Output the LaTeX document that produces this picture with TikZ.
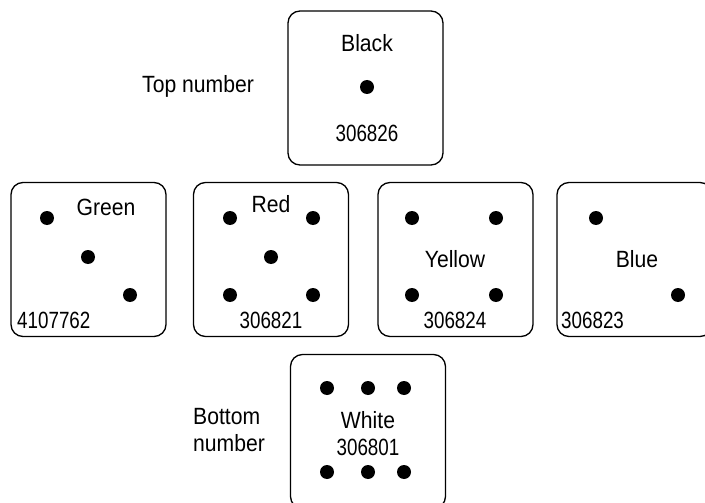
\documentclass[tikz,border=0pt]{standalone}
\usepackage{fontspec}
\setmainfont[FakeStretch=0.9]{Liberation Sans}
\newfontfamily\digitfont[FakeStretch=0.8]{Liberation Sans}
\usetikzlibrary{positioning}

\begin{document}
\begin{tikzpicture}[
  x=1pt, y=-1pt,
  font=\fontsize{23.5}{27}\selectfont,
  face/.style={rectangle, draw, line width=1.3pt, rounded corners=12pt, minimum width=155pt, minimum height=154pt, inner sep=0pt},
  pip/.style={circle, fill, minimum size=14pt, inner sep=0pt},
  lbl/.style={inner sep=0pt, align=left},
  num/.style={font=\fontsize{23.5}{27}\digitfont}
]
\clip (0,0) rectangle (705,503);
% faces
\node[face] (black)  at (365.5,88)   {};
\node[face] (green)  at (88.5,259.5) {};
\node[face] (red)    at (271,259.5)  {};
\node[face] (yellow) at (455.5,259.5){};
\node[face] (blue)   at (634.5,259.5){};
\node[face] (white)  at (368,431.5)  {};
% black
\node at (367,43)  (blackname) {Black};
\node[pip] (b1) at (367,87) {};
\node[num] at (367,133) (blacknum) {306826};
% green
\node at (106,207) (greenname) {Green};
\node[pip] (g1) at (47,218) {};
\node[pip] (g2) at (88,257) {};
\node[pip] (g3) at (130,295) {};
\node[num, lbl, anchor=west] at (17,320) (greennum) {4107762};
% red
\node at (271,204) (redname) {Red};
\node[pip] (r1) at (230,218) {};
\node[pip] (r2) at (313,218) {};
\node[pip] (r3) at (271,257) {};
\node[pip] (r4) at (230,295) {};
\node[pip] (r5) at (313,295) {};
\node[num] at (271,320) (rednum) {306821};
% yellow
\node[pip] (y1) at (412,218) {};
\node[pip] (y2) at (496,218) {};
\node at (455,259) (yellowname) {Yellow};
\node[pip] (y3) at (412,295) {};
\node[pip] (y4) at (496,295) {};
\node[num] at (455,320) (yellownum) {306824};
% blue
\node[pip] (u1) at (596,218) {};
\node at (637,259) (bluename) {Blue};
\node[pip] (u2) at (678,295) {};
\node[num, lbl, anchor=west] at (561,320) (bluenum) {306823};
% white
\foreach \i/\x in {1/327,2/368,3/404} {
  \node[pip] (wt\i) at (\x,388) {};
  \node[pip] (wb\i) at (\x,472) {};
}
\node at (368,420) (whitename) {White};
\node[num] at (368,447) (whitenum) {306801};
% side labels
\node at (198,86) (toplbl) {Top number};
\node[lbl, anchor=west] at (193,430) (botlbl) {Bottom\\number};
\end{tikzpicture}
\end{document}
